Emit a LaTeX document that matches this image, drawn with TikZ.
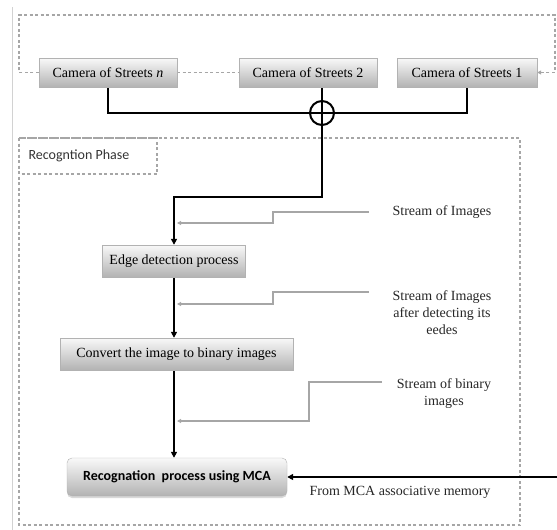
\documentclass[tikz,border=0pt]{standalone}
\usepackage{fontspec}
\setmainfont{Liberation Serif}
\newfontfamily\calibri{Carlito}
\usetikzlibrary{arrows.meta,shadows}
\pgfdeclarelayer{background}
\pgfdeclarelayer{foreground}
\pgfsetlayers{background,main,foreground}
\tikzset{
  cambox/.style={draw=gray!60, top color=gray!5, bottom color=gray!60, minimum height=29pt, inner sep=2pt, font=\rmfamily\fontsize{14}{17}\selectfont},
  procbox/.style={cambox, minimum height=32pt},
  frame/.style={draw=gray!70, line width=1.1pt, dash pattern=on 3pt off 2.5pt},
  flow/.style={line width=2pt, -{Triangle[length=6pt,width=6pt]}},
  feed/.style={draw=gray!70, line width=1.2pt, -{Triangle[length=4pt,width=4pt]}},
  note/.style={font=\rmfamily\fontsize{14}{17}\selectfont, align=center, text=black!85},
}
\begin{document}
\begin{tikzpicture}[x=1pt,y=-1pt]
\useasboundingbox (0,0) rectangle (557,530);
\draw[gray!35, line width=1pt] (12,7) -- (12,530);
\begin{pgfonlayer}{foreground}
\node[cambox, minimum width=138pt] (camn) at (108,72.5) {Camera of Streets \textit{n}};
\node[cambox, minimum width=138pt] (cam2) at (308,72.5) {Camera of Streets 2};
\node[cambox, minimum width=140pt] (cam1) at (467,72.5) {Camera of Streets 1};
\node[circle, draw, line width=2pt, minimum size=24pt, inner sep=0pt] (sum) at (322,113) {};
\node[procbox, minimum width=143pt] (edge) at (174,261) {Edge detection process};
\node[procbox, minimum width=233pt] (conv) at (176.5,354) {Convert the image to binary images};
\node[procbox, minimum width=220pt, minimum height=38pt, rounded corners=5pt, drop shadow={shadow xshift=0pt, shadow yshift=-2pt, opacity=0.3}, font=\calibri\bfseries\fontsize{14}{17}\selectfont] (recog) at (177,477) {Recognation\ \ process using MCA};
\end{pgfonlayer}
\begin{pgfonlayer}{background}
\draw[frame, -{Triangle[length=4pt,width=4pt]}] (camn.west) -| (19,15) -| (555,72.5) -- (cam1.east);
\draw[frame] (camn.east) -- (cam2.west);
\draw[frame] (19,138) rectangle (520,525);
\draw[frame] (19,138) rectangle (157,174);
\end{pgfonlayer}
\node[font=\calibri\fontsize{14}{17}\selectfont, text=black!80, anchor=west] (phase) at (25,156) {Recogntion Phase};
\draw[line width=2pt] (camn.south) |- (sum.center) -| (cam1.south);
\coordinate (turn) at (322,197);
\draw[flow] (cam2.south -| sum) -- (turn) -| (edge.north);
\draw[flow] (edge.south) -- (edge.south |- conv.north);
\draw[flow] (conv.south -| edge.south) -- (recog.north -| edge.south);
\node[note] (s1) at (442,212) {Stream of Images};
\node[note] (s2) at (442,313) {Stream of Images\\after detecting its\\eedes};
\node[note] (s3) at (444,394) {Stream of binary\\images};
\node[note] (from) at (400,492) {From MCA associative memory};
\coordinate (in1) at (369,212);
\coordinate (in2) at (369,292);
\coordinate (in3) at (382,382);
\draw[feed] (in1) -- (273,212) -- (273,223) -- (177,223);
\draw[feed] (in2) -- (273,292) -- (273,304) -- (177,304);
\draw[feed] (in3) -- (309,382) -- (309,421) -- (177,421);
\coordinate (mem) at (557,477);
\draw[flow] (mem) -- (recog.east);
\end{tikzpicture}
\end{document}
